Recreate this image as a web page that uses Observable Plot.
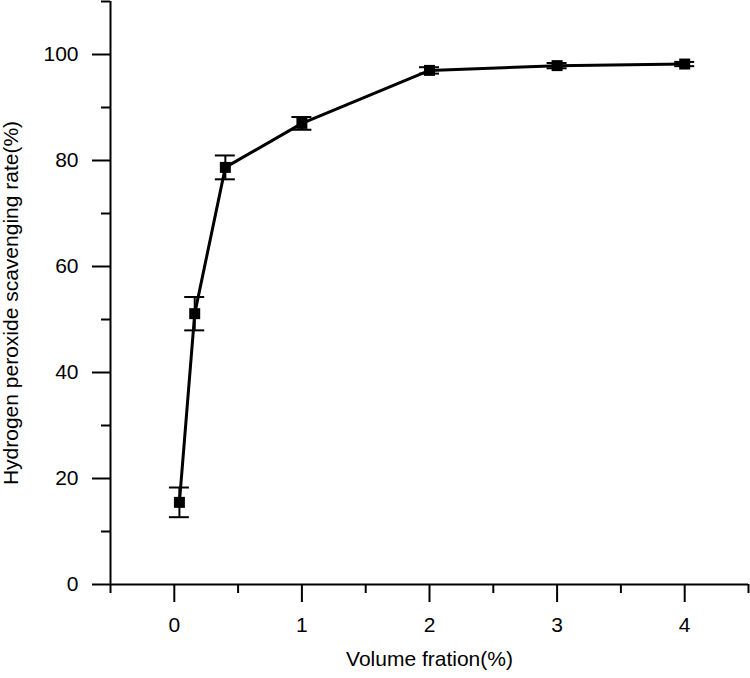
<!DOCTYPE html>
<html>
<head>
<meta charset="utf-8">
<script src="https://cdn.jsdelivr.net/npm/d3@7"></script>
<script src="https://cdn.jsdelivr.net/npm/@observablehq/plot@0.6"></script>
<style>
  html, body { margin: 0; padding: 0; background: #fff; }
  #chart { width: 750px; height: 678px; }
</style>
</head>
<body>
<div id="chart"></div>
<script>
// Data
const volumeFraction = [0.04, 0.16, 0.4, 1, 2, 3, 4];
const scavengingRate = [15.5, 51.1, 78.7, 87.0, 97.0, 97.9, 98.2];
const errorValue = [2.8, 3.15, 2.25, 1.2, 0.6, 0.5, 0.4];

const xMajorTicks = [0, 1, 2, 3, 4];
const xMinorTicks = [-0.5, 0.5, 1.5, 2.5, 3.5, 4.5];
const yMajorTicks = [0, 20, 40, 60, 80, 100];
const yMinorTicks = [10, 30, 50, 70, 90, 110];

const xTitle = "Volume fration(%)";
const yTitle = "Hydrogen peroxide scavenging rate(%)";

const data = volumeFraction.map((x, i) => ({
  x,
  y: scavengingRate[i],
  lo: scavengingRate[i] - errorValue[i],
  hi: scavengingRate[i] + errorValue[i]
}));

const chart = Plot.plot({
  width: 750,
  height: 678,
  marginLeft: 110,
  marginRight: 2,
  marginTop: 1,
  marginBottom: 94,
  style: {
    fontFamily: "'Liberation Sans', Arial, sans-serif",
    fontSize: "21px",
    color: "black",
    background: "white",
    overflow: "visible"
  },
  x: { domain: [-0.5, 4.5] },
  y: { domain: [0, 110] },
  marks: [
    Plot.axisX({ ticks: xMajorTicks, tickSize: 18, tickPadding: 15, tickFormat: d => String(d), strokeWidth: 2, label: null, fontSize: 21 }),
    Plot.axisX({ ticks: xMinorTicks, tickSize: 9, tickFormat: () => "", strokeWidth: 2, label: null }),
    Plot.axisY({ ticks: yMajorTicks, tickSize: 18, tickPadding: 14, tickFormat: d => String(d), strokeWidth: 2, label: null, fontSize: 21 }),
    Plot.axisY({ ticks: yMinorTicks, tickSize: 9, tickFormat: () => "", strokeWidth: 2, label: null }),
    Plot.ruleY([0], { stroke: "black", strokeWidth: 2 }),
    Plot.ruleX([-0.5], { stroke: "black", strokeWidth: 2 }),
    // error bars
    Plot.ruleX(data, { x: "x", y1: "lo", y2: "hi", stroke: "black", strokeWidth: 2 }),
    Plot.ruleY(data, { y: "hi", x1: "x", x2: "x", insetLeft: -10, insetRight: -10, stroke: "black", strokeWidth: 2 }),
    Plot.ruleY(data, { y: "lo", x1: "x", x2: "x", insetLeft: -10, insetRight: -10, stroke: "black", strokeWidth: 2 }),
    // line and markers
    Plot.line(data, { x: "x", y: "y", stroke: "black", strokeWidth: 3 }),
    Plot.dot(data, { x: "x", y: "y", symbol: "square", r: 6.2, fill: "black", stroke: "none" }),
    // axis titles
    Plot.text([xTitle], { frameAnchor: "bottom", textAnchor: "middle", dy: 81, fontSize: 21, fill: "black" }),
    Plot.text([yTitle], { frameAnchor: "left", textAnchor: "middle", dx: -99, dy: 10, rotate: -90, fontSize: 21, fill: "black" })
  ]
});

document.getElementById("chart").appendChild(chart);
</script>
</body>
</html>
